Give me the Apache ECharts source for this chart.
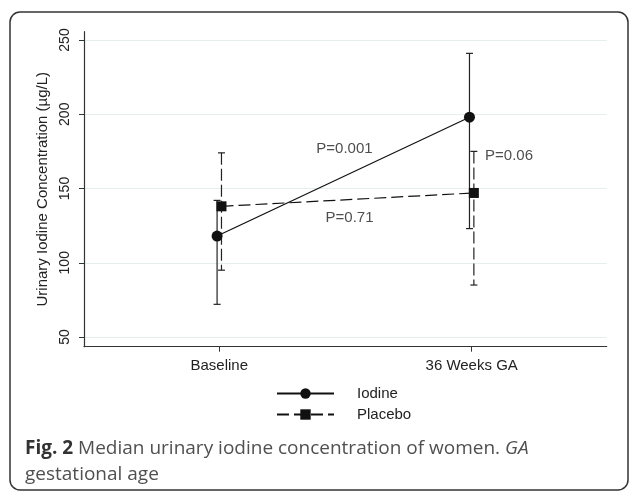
<!DOCTYPE html>
<html><head><meta charset="utf-8">
<script src="https://cdn.jsdelivr.net/npm/echarts@6/dist/echarts.min.js"></script>
<style>html,body{margin:0;padding:0;background:#fff}#c{width:629px;height:491px}</style>
</head><body><div id="c"></div>
<script>
// ---- data ----
const categories = ['Baseline', '36 Weeks GA'];
const yTicks = [50, 100, 150, 200, 250];
const iodineMedian = [118, 198];
const iodineLow = [72, 123];
const iodineHigh = [142, 241];
const placeboMedian = [138, 147];
const placeboLow = [95, 85];
const placeboHigh = [174, 175];
const pValueText = ['P=0.001', 'P=0.71', 'P=0.06'];
const pValueAt = [[0.496, 176.6], [0.516, 130.1], [1.053, 171.9]];
const pValueAlign = ['center', 'center', 'left'];

// ---- style ----
const DODGE = 0.0087;
const INK = '#222';
const FONT = '"Liberation Sans", Arial, sans-serif';
const CAPFONT = '"Open Sans", sans-serif';

const chart = echarts.init(document.getElementById('c'), null, {renderer: 'canvas'});

function errRender(dashed) {
  return function (params, api) {
    const x = api.value(0), lo = api.value(1), hi = api.value(2);
    const a = api.coord([x, lo]), b = api.coord([x, hi]);
    const w = 3.5;
    const vs = {stroke: INK, lineWidth: 1.2, fill: null};
    if (dashed) vs.lineDash = [12, 4];
    const cs = {stroke: INK, lineWidth: 1.2, fill: null};
    return {type: 'group', children: [
      {type: 'line', shape: {x1: b[0], y1: b[1], x2: a[0], y2: a[1]}, style: vs},
      {type: 'line', shape: {x1: a[0] - w, y1: a[1], x2: a[0] + w, y2: a[1]}, style: cs},
      {type: 'line', shape: {x1: b[0] - w, y1: b[1], x2: b[0] + w, y2: b[1]}, style: cs}
    ]};
  };
}

const idxs = categories.map((c, i) => i);

const option = {
  animation: false,
  backgroundColor: '#fff',
  grid: {left: 84, right: 22.3, top: 31.7, bottom: 144.3, containLabel: false},
  xAxis: {
    type: 'value', min: -0.536, max: 1.535,
    axisLine: {show: true, onZero: false, lineStyle: {color: '#333', width: 1.2}},
    axisTick: {show: true, length: 5, customValues: idxs, lineStyle: {color: '#333', width: 1}},
    axisLabel: {customValues: idxs, margin: 12, fontSize: 15, fontFamily: FONT, color: INK,
      formatter: v => categories[Math.round(v)] || ''},
    splitLine: {show: false}
  },
  yAxis: {
    type: 'value', min: 43.47, max: 255.59,
    name: 'Urinary Iodine Concentration (\u00b5g/L)', nameLocation: 'middle', nameGap: 33,
    nameTextStyle: {fontSize: 15, fontFamily: FONT, color: INK},
    axisLine: {show: true, onZero: false, lineStyle: {color: '#333', width: 1.2}},
    axisTick: {show: true, length: 5, customValues: yTicks, lineStyle: {color: '#333', width: 1}},
    axisLabel: {customValues: yTicks, rotate: 90, margin: 12, fontSize: 14, fontFamily: FONT, color: INK},
    splitLine: {show: true, lineStyle: {color: '#e6eff0', width: 1.2}}
  },
  legend: {
    data: ['Iodine', 'Placebo'], orient: 'vertical', left: 276, top: 386, padding: 0,
    itemWidth: 57, itemHeight: 13, itemGap: 6,
    textStyle: {fontSize: 15, fontFamily: FONT, color: INK, padding: [0, 0, 0, 18]}
  },
  title: {
    left: 25, top: 436, padding: 0,
    text: '{b|Fig. 2} Median urinary iodine concentration of women. {i|GA}\ngestational age',
    textStyle: {
      fontFamily: CAPFONT, fontSize: 19, lineHeight: 26, color: '#505050', fontWeight: 'normal',
      rich: {
        b: {fontFamily: CAPFONT, fontSize: 19, lineHeight: 26, fontWeight: 'bold', color: '#333'},
        i: {fontFamily: CAPFONT, fontSize: 19, lineHeight: 26, fontStyle: 'italic', color: '#505050'}
      }
    }
  },
  graphic: [{
    type: 'rect', z: -1, silent: true,
    shape: {x: 10, y: 12, width: 618, height: 478, r: 10},
    style: {fill: null, stroke: '#333', lineWidth: 1.5}
  }],
  series: [
    {
      type: 'custom', name: 'iodineErr', renderItem: errRender(false), z: 2,
      encode: {x: 0, y: [1, 2]},
      data: idxs.map(i => [i - DODGE, iodineLow[i], iodineHigh[i]])
    },
    {
      type: 'custom', name: 'placeboErr', renderItem: errRender(true), z: 2,
      encode: {x: 0, y: [1, 2]},
      data: idxs.map(i => [i + DODGE, placeboLow[i], placeboHigh[i]])
    },
    {
      type: 'line', name: 'Iodine', z: 3,
      symbol: 'circle', symbolSize: 11,
      itemStyle: {color: '#111'},
      lineStyle: {color: '#111', width: 1.2, type: 'solid'},
      data: idxs.map(i => [i - DODGE, iodineMedian[i]])
    },
    {
      type: 'line', name: 'Placebo', z: 3,
      symbol: 'rect', symbolSize: 10,
      itemStyle: {color: '#111'},
      lineStyle: {color: '#111', width: 1.2, type: [12, 5]},
      data: idxs.map(i => [i + DODGE, placeboMedian[i]])
    },
    {
      type: 'scatter', name: 'pvals', symbolSize: 0, z: 4, silent: true,
      label: {show: true, position: 'inside', fontSize: 15, fontFamily: FONT, color: INK,
        formatter: p => p.name},
      data: pValueText.map((t, i) => ({name: t, value: pValueAt[i], label: {align: pValueAlign[i]}}))
    }
  ]
};
chart.setOption(option);
</script>
</body></html>
